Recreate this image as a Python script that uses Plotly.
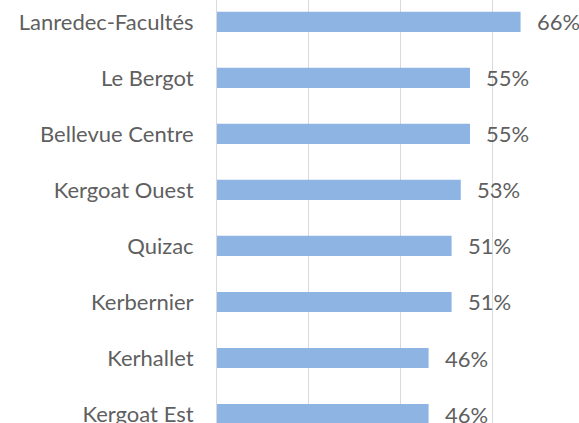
import plotly.graph_objects as go

categories = ["Kergoat Est", "Kerhallet", "Kerbernier", "Quizac", "Kergoat Ouest",
              "Bellevue Centre", "Le Bergot", "Lanredec-Facultés"]
values = [46, 46, 51, 51, 53, 55, 55, 66]
labels = [f"{v}%" for v in values]

FONT = "Lato"
TXT = "#5F5F5F"

fig = go.Figure()
fig.add_trace(go.Bar(
    x=values, y=categories, orientation="h",
    marker=dict(color="#8EB4E3", line=dict(width=0)),
    width=0.36, hoverinfo="skip",
))
for c, v, t in zip(categories, values, labels):
    fig.add_annotation(x=v, y=c, text=t, showarrow=False, xanchor="left",
                       xshift=14, font=dict(family=FONT, size=22, color=TXT))

fig.update_layout(
    width=579, height=423,
    margin=dict(l=217, r=0, t=0, b=0),
    paper_bgcolor="white", plot_bgcolor="white",
    showlegend=False,
    xaxis=dict(range=[0, 78.7], dtick=20, showgrid=True, gridcolor="#D9D9D9",
               gridwidth=1, showticklabels=False, zeroline=False,
               showline=False, fixedrange=True),
    yaxis=dict(range=[-0.16, 7.39], showgrid=False, showline=True,
               linecolor="#D9D9D9", linewidth=1, ticks="outside", ticklen=18,
               tickcolor="rgba(0,0,0,0)", automargin=False, fixedrange=True,
               tickfont=dict(family=FONT, size=22, color=TXT)),
)
fig.write_html("out.html", config={"displayModeBar": False},
               post_script="document.body.style.margin='0';")
